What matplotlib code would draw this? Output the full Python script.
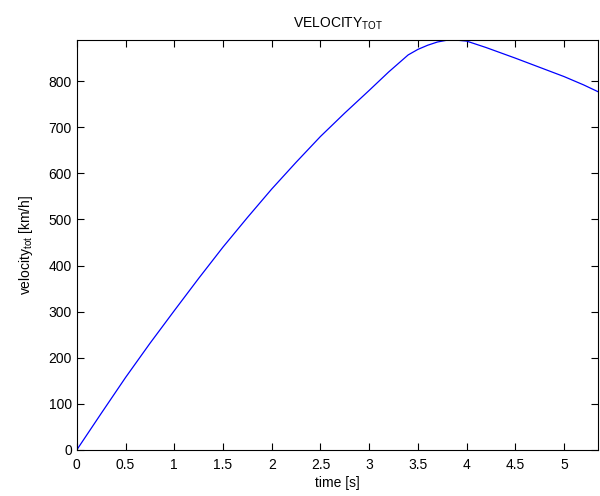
import matplotlib.pyplot as plt
import matplotlib.ticker as ticker

plt.rcParams['font.family'] = ['Liberation Sans', 'DejaVu Sans']
plt.rcParams['mathtext.default'] = 'regular'

# velocity samples
time_s = [0, 0.25, 0.5, 0.75, 1.0, 1.25, 1.5, 1.75, 2.0, 2.25, 2.5, 2.75, 3.0,
          3.2, 3.4, 3.5, 3.6, 3.7, 3.8, 3.9, 4.0, 4.2, 4.5, 4.8, 5.0, 5.2, 5.35]
velocity = [0, 79, 157, 231, 302, 372, 440, 504, 566, 624, 680, 731, 780,
            820, 857, 869, 878, 885, 889, 889, 887, 873, 850, 826, 810, 792, 777]

fig = plt.figure(figsize=(6, 4.96), dpi=100)
ax = fig.add_axes([0.128, 0.093, 0.869, 0.826])
ax.plot(time_s, velocity, color='#0000ff', linewidth=0.9)

ax.set_xlim(0, time_s[-1])
ax.set_ylim(0, max(velocity))
ax.xaxis.set_major_locator(ticker.MultipleLocator(0.5))
ax.yaxis.set_major_locator(ticker.MultipleLocator(100))
ax.xaxis.set_major_formatter(ticker.FormatStrFormatter('%g'))
ax.tick_params(direction='in', top=True, right=True, labelsize=10, length=5)
ax.tick_params(axis='x', pad=6)

ax.set_title('VELOCITY$_{TOT}$', fontsize=10, pad=9)
ax.set_xlabel('time [s]', fontsize=10, labelpad=3)
ax.set_ylabel('velocity$_{tot}$ [km/h]', fontsize=10, labelpad=10)

plt.savefig('out.png', dpi=100)
